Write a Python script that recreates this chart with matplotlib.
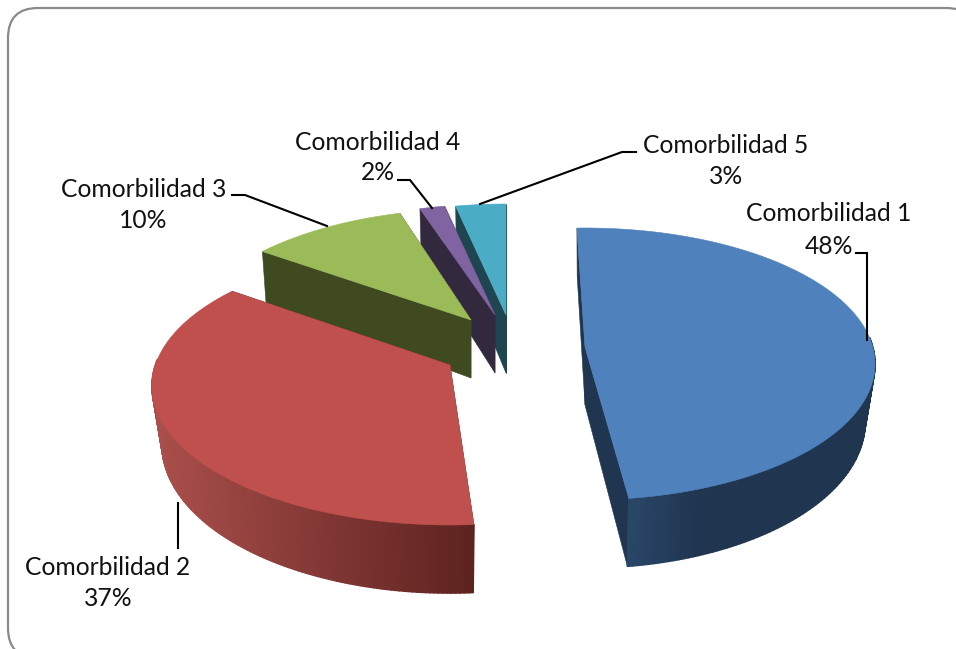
import numpy as np
import matplotlib
matplotlib.use("Agg")
import matplotlib.pyplot as plt
from matplotlib.patches import FancyBboxPatch, Polygon
from matplotlib.collections import PolyCollection
from matplotlib.colors import to_rgb

# ---- data ----
categories = ["Comorbilidad 1", "Comorbilidad 2", "Comorbilidad 3", "Comorbilidad 4", "Comorbilidad 5"]
values = [48, 37, 10, 2, 3]

# ---- layout / style (one entry per slice) ----
apex_x = [585, 450, 471, 495, 506]
apex_y = [347, 365, 320, 315, 315]
start_warp = [-1.6, 2.6, 8.0, 3.0, 0.8]   # perspective warp of the pie angles
end_warp = [-1.5, 7.0, 3.8, 0.8, 0.0]
rad_x = [290, 298, 290, 290, 290]
rad_x_bottom = [280, 288, 285, 285, 285]
rad_y = [136, 139, 139, 139, 139]
rad_y_bottom = [146, 149, 149, 149, 149]
centre_off = [17, 21, 28, 28, 28]
DEPTH = 58
top_color = ["#4F81BD", "#C0504D", "#9BBB59", "#8064A2", "#4BACC6"]
wall_color = ["#1F3550", "#5E2320", "#404A20", "#33293F", "#1E4550"]
side_left = ["#2B4768", "#AA4F4B", "#404A20", "#33293F", "#1E4550"]
side_right = ["#1F3550", "#5E2320", "#404A20", "#33293F", "#1E4550"]
side_ramp = [0.3, 1.0, 1.0, 1.0, 1.0]

# label layout: name centre, value centre, leader polyline
name_pos = [(828.5, 213.5), (108, 567.5), (143.5, 189.5), (377.5, 142.5), (726, 145.5)]
value_pos = [(828.5, 246), (108, 599), (143.5, 220), (378, 173), (726, 177)]
leaders = [
    [(856, 253), (867, 253), (867, 340)],
    [(178, 503), (178, 548)],
    [(232, 195), (245, 195), (327, 226)],
    [(398, 180), (410, 180), (432, 208)],
    [(636, 152), (622, 152), (480, 204)],
]

plt.rcParams["font.family"] = ["Lato", "DejaVu Sans"]
fig = plt.figure(figsize=(9.56, 6.49), dpi=100)
ax = fig.add_axes([0, 0, 1, 1])
ax.set_xlim(0, 956)
ax.set_ylim(649, 0)
ax.axis("off")

# frame
ax.add_patch(FancyBboxPatch((8 + 30, 8 + 30), 968 - 60, 650 - 60,
                            boxstyle="round,pad=30,rounding_size=30",
                            fc="white", ec="#8A8A8A", lw=1.6, zorder=0))


def top_pt(i, th):
    return (apex_x[i] + rad_x[i] * np.sin(th),
            apex_y[i] + centre_off[i] - rad_y[i] * np.cos(th))


def bot_pt(i, th):
    return (apex_x[i] + rad_x_bottom[i] * np.sin(th),
            apex_y[i] + DEPTH + centre_off[i] - rad_y_bottom[i] * np.cos(th))


def mix(c1, c2, t):
    c1, c2 = np.array(to_rgb(c1)), np.array(to_rgb(c2))
    return tuple(c1 + (c2 - c1) * np.clip(t, 0, 1))


edges = np.concatenate([[0], np.cumsum(values)]) / sum(values) * 360.0
draw_order = [4, 3, 2, 1, 0]

for z, i in enumerate(draw_order):
    a0 = np.radians(edges[i] + start_warp[i])
    a1 = np.radians(edges[i + 1] + end_warp[i])
    A_top = (apex_x[i], apex_y[i])
    A_bot = (apex_x[i], apex_y[i] + DEPTH)
    base = 2 + z * 5

    # cut walls
    for a in (a0, a1):
        ax.add_patch(Polygon([A_top, top_pt(i, a), bot_pt(i, a), A_bot], closed=True,
                             fc=wall_color[i], ec=wall_color[i], lw=0.4, zorder=base))

    # outer rim, shaded from left to right
    th = np.linspace(a0, a1, 160)
    th = th[np.cos(th) < 0.2]
    if len(th) > 1:
        quads, cols = [], []
        xmin = min(top_pt(i, t)[0] for t in th)
        xmax = max(top_pt(i, t)[0] for t in th)
        for t0, t1 in zip(th[:-1], th[1:]):
            quads.append([top_pt(i, t0), top_pt(i, t1), bot_pt(i, t1), bot_pt(i, t0)])
            frac = (top_pt(i, t0)[0] - xmin) / max(xmax - xmin, 1)
            cols.append(mix(side_left[i], side_right[i], frac / side_ramp[i]))
        ax.add_collection(PolyCollection(quads, facecolors=cols, edgecolors=cols,
                                         linewidths=1.2, zorder=base + 1))

    # top face
    th = np.linspace(a0, a1, 240)
    ax.add_patch(Polygon([A_top] + [top_pt(i, t) for t in th], closed=True,
                         fc=top_color[i], ec=top_color[i], lw=0.4, zorder=base + 2))

# leaders and labels
for line in leaders:
    xs, ys = zip(*line)
    ax.plot(xs, ys, color="black", lw=1.5, zorder=40, solid_joinstyle="miter")

for name, v, np_, vp in zip(categories, values, name_pos, value_pos):
    ax.text(np_[0], np_[1], name, ha="center", va="center", fontsize=17.7, color="#111111", zorder=50)
    ax.text(vp[0], vp[1], f"{v}%", ha="center", va="center", fontsize=17.7, color="#111111", zorder=50)

fig.savefig("out.png", dpi=100)
